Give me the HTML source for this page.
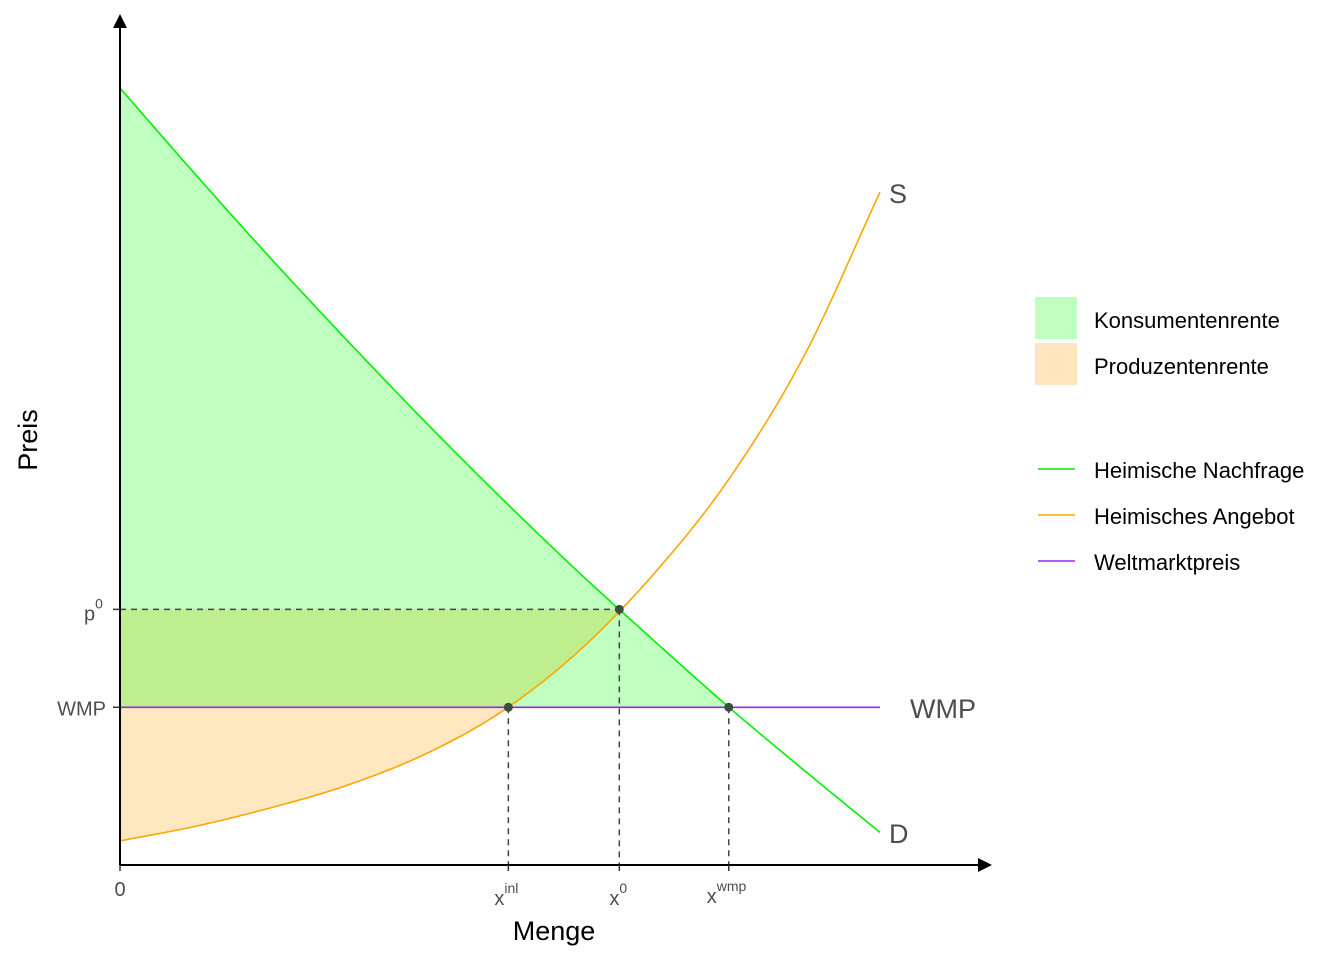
<!DOCTYPE html>
<html><head><meta charset="utf-8"><style>
body{margin:0;background:#fff;width:1344px;height:960px;overflow:hidden}
svg text{font-family:"Liberation Sans",Arial,sans-serif}
</style></head><body>
<svg id="chart" width="1344" height="960">
<g id="fills"></g><g id="lines"></g><g id="axes"></g><g id="labels"></g>
<g>
<rect x="1035" y="297" width="42" height="42" fill="#bfffbf"/>
<text x="1094" y="328" font-size="22" fill="#000">Konsumentenrente</text>
<rect x="1035" y="343" width="42" height="42" fill="#ffe6bf"/>
<text x="1094" y="374" font-size="22" fill="#000">Produzentenrente</text>
<line x1="1038" x2="1075" y1="469" y2="469" stroke="#00ee00" stroke-width="1.6"/>
<text x="1094" y="478" font-size="22">Heimische Nachfrage</text>
<line x1="1038" x2="1075" y1="515" y2="515" stroke="#ffa500" stroke-width="1.6"/>
<text x="1094" y="524" font-size="22">Heimisches Angebot</text>
<line x1="1038" x2="1075" y1="561" y2="561" stroke="#a020f0" stroke-width="1.6"/>
<text x="1094" y="570" font-size="22">Weltmarktpreis</text>
</g>
</svg>
<script>
const qty = [0,1,2,3,4,5,6,7,8,9,10];
const demandPrice = [10.0,8.88,7.79,6.74,5.72,4.74,3.80,2.91,2.04,1.22,0.42];
const supplyPrice = [0.31,0.50,0.74,1.03,1.42,1.96,2.72,3.72,4.95,6.55,8.66];
const wmp = 2.03;
const p0 = 3.29;
const xMarks = [5.11, 6.57, 8.01];
const xMarkLabels = ["inl","0","wmp"];

const X = v => 120 + v*76;
const Y = v => 865 - v*77.7;
const NS = "http://www.w3.org/2000/svg";
function mk(parent, tag, attrs){const e=document.createElementNS(NS,tag);for(const k in attrs)e.setAttribute(k,attrs[k]);document.getElementById(parent).appendChild(e);return e;}
function interp(arr, x){
  let i=Math.min(Math.max(Math.floor(x),0),qty.length-2);
  const t=x-i;
  const p0_=arr[Math.max(i-1,0)],p1=arr[i],p2=arr[i+1],p3=arr[Math.min(i+2,arr.length-1)];
  const m1=(p2-p0_)/(i===0?1:2), m2=(p3-p1)/(i+1===arr.length-1?1:2);
  const t2=t*t,t3=t2*t;
  return (2*t3-3*t2+1)*p1+(t3-2*t2+t)*m1+(-2*t3+3*t2)*p2+(t3-t2)*m2;
}
function curve(arr,a,b){const pts=[];const n=200;for(let k=0;k<=n;k++){const x=a+(b-a)*k/n;pts.push([X(x),Y(interp(arr,x))]);}return pts;}
const ps = p=>p.map(q=>q[0].toFixed(1)+","+q[1].toFixed(1)).join(" ");

let pr=curve(supplyPrice,0,xMarks[1]);
let e=mk("fills","polygon",{points:ps([[X(0),Y(p0)],...pr,[X(xMarks[1]),Y(p0)]]),fill:"rgba(255,165,0,0.25)"});


let kr=curve(demandPrice,0,xMarks[2]);
e=mk("fills","polygon",{points:ps([[X(0),Y(wmp)],...kr,[X(xMarks[2]),Y(wmp)]]),fill:"rgba(0,255,0,0.25)"});



e=mk("lines","line",{x1:X(0),x2:X(xMarks[1]),y1:Y(p0),y2:Y(p0),stroke:"#444","stroke-width":1.5,"stroke-dasharray":"6,5"});


xMarks.forEach((m,i)=>{
  const py = i===1?p0:wmp;
  const g=mk("lines","line",{x1:X(m),x2:X(m),y1:Y(py),y2:865,stroke:"#444","stroke-width":1.5,"stroke-dasharray":"6,5"});
  
  
});
e=mk("lines","line",{x1:X(0),x2:X(10),y1:Y(wmp),y2:Y(wmp),stroke:"#a020f0","stroke-width":1.6});


e=mk("lines","polyline",{points:ps(curve(supplyPrice,0,10)),fill:"none",stroke:"#ffa500","stroke-width":1.6});


e=mk("lines","polyline",{points:ps(curve(demandPrice,0,10)),fill:"none",stroke:"#00ee00","stroke-width":1.6});


[[xMarks[0],wmp],[xMarks[1],p0],[xMarks[2],wmp]].forEach((p,i)=>{
  const c=mk("lines","circle",{cx:X(p[0]),cy:Y(p[1]),r:4.5,fill:"#3d4d3d"});
  
  
});
e=mk("axes","line",{x1:120,x2:984,y1:865,y2:865,stroke:"#000","stroke-width":2});


e=mk("axes","polygon",{points:"992,865 978,858 978,872",fill:"#000"});


e=mk("axes","line",{x1:120,x2:120,y1:865,y2:22,stroke:"#000","stroke-width":2});


e=mk("axes","polygon",{points:"120,14 113,28 127,28",fill:"#000"});


[p0,wmp].forEach((p,i)=>{
  const t=mk("axes","line",{x1:113,x2:120,y1:Y(p),y2:Y(p),stroke:"#333","stroke-width":1.5});
  
  
});
[0,...xMarks].forEach((m,i)=>{
  const t=mk("axes","line",{x1:X(m),x2:X(m),y1:865,y2:871,stroke:"#333","stroke-width":1.5});
  
  
});
document.getElementById("labels").innerHTML=`
<text x="120" y="896" font-size="20" fill="#4d4d4d" text-anchor="middle">0</text>
<text x="${X(xMarks[0])-14}" y="905" font-size="20" fill="#4d4d4d">x<tspan dy="-12" font-size="14">inl</tspan></text>
<text x="${X(xMarks[1])-10}" y="905" font-size="20" fill="#4d4d4d">x<tspan dy="-12" font-size="14">0</tspan></text>
<text x="${X(xMarks[2])-22}" y="903" font-size="20" fill="#4d4d4d">x<tspan dy="-12" font-size="14">wmp</tspan></text>
<text x="84" y="${Y(p0)+11}" font-size="20" fill="#4d4d4d">p<tspan dy="-12" font-size="14">0</tspan></text>
<text x="106" y="${Y(wmp)+8}" font-size="20" fill="#4d4d4d" text-anchor="end">WMP</text>
<text x="554" y="940" font-size="27" text-anchor="middle">Menge</text>
<text transform="translate(37,440) rotate(-90)" font-size="27" text-anchor="middle">Preis</text>
<text x="889" y="203" font-size="27" fill="#4d4d4d">S</text>
<text x="889" y="843" font-size="27" fill="#4d4d4d">D</text>
<text x="910" y="718" font-size="27" fill="#4d4d4d">WMP</text>`;
</script>
</body></html>
